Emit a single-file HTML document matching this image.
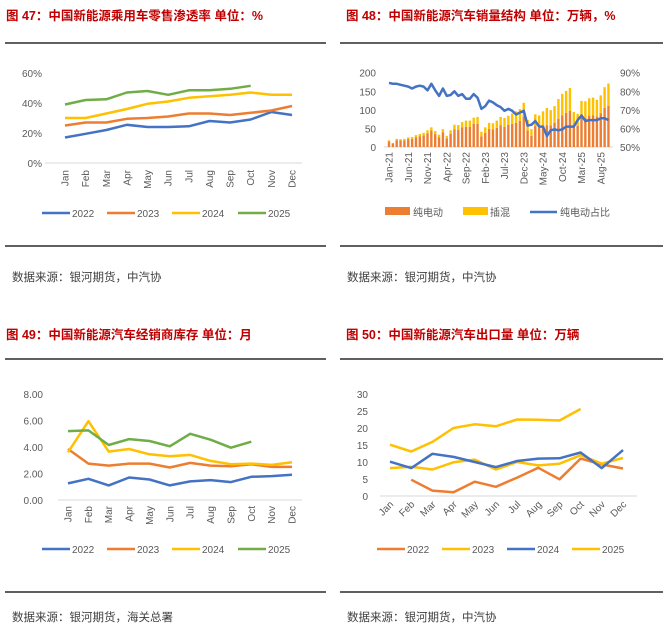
<!DOCTYPE html>
<html><head><meta charset="utf-8">
<style>
body{margin:0;background:#fff;width:668px;height:632px;overflow:hidden;font-family:"Liberation Sans","Noto Sans CJK SC",sans-serif}
svg text{font-family:"Liberation Sans","Noto Sans CJK SC",sans-serif}
.t{fill:#c00000;font-size:12.5px;font-weight:bold}
.s{fill:#404040;font-size:11.5px}
.a{fill:#595959;font-size:10px}
</style></head><body>
<svg id="svg" width="668" height="632" xmlns="http://www.w3.org/2000/svg">
<text class="t" x="6" y="20">图 47：中国新能源乘用车零售渗透率   单位：%</text>
<text class="t" x="346" y="20">图 48：中国新能源汽车销量结构   单位：万辆，%</text>
<text class="t" x="6" y="339">图 49：中国新能源汽车经销商库存   单位：月</text>
<text class="t" x="346" y="339">图 50：中国新能源汽车出口量   单位：万辆</text>
<line x1="5" y1="43" x2="326" y2="43" stroke="#000" stroke-width="1.2"/>
<line x1="340" y1="43" x2="663" y2="43" stroke="#000" stroke-width="1.2"/>
<line x1="5" y1="359" x2="326" y2="359" stroke="#000" stroke-width="1.2"/>
<line x1="340" y1="359" x2="663" y2="359" stroke="#000" stroke-width="1.2"/>
<line x1="5" y1="246" x2="326" y2="246" stroke="#000" stroke-width="1.2"/>
<line x1="340" y1="246" x2="663" y2="246" stroke="#000" stroke-width="1.2"/>
<line x1="5" y1="592" x2="326" y2="592" stroke="#000" stroke-width="1.2"/>
<line x1="340" y1="592" x2="663" y2="592" stroke="#000" stroke-width="1.2"/>
<text class="s" x="12" y="281">数据来源：银河期货，中汽协</text>
<text class="s" x="347" y="281">数据来源：银河期货，中汽协</text>
<text class="s" x="12" y="621">数据来源：银河期货，海关总署</text>
<text class="s" x="347" y="621">数据来源：银河期货，中汽协</text>
<g id="g"></g>
</svg>
<script>
const months=["Jan","Feb","Mar","Apr","May","Jun","Jul","Aug","Sep","Oct","Nov","Dec"];
const c1Years=["2022","2023","2024","2025"];
const c1_2022=[17,19.5,22,25.5,24,24,24.5,28,27,29,34,32];
const c1_2023=[25,27,27,29.5,30,31,33,33,32,33.5,35,38];
const c1_2024=[30,30,33,36,39.5,41,43.5,44.5,45.5,47,45.5,45.5];
const c1_2025=[39,42,42.5,47,48,45.5,48.5,48.5,49.5,51.5];
const c1Ticks=[0,20,40,60];
const c2Labels=["Jan-21","Jun-21","Nov-21","Apr-22","Sep-22","Feb-23","Jul-23","Dec-23","May-24","Oct-24","Mar-25","Aug-25"];
const c2Total=[18,11,22,21,22,26,27,32,35,38,45,53,
43,33,48,30,45,60,59,67,71,71,79,81,
41,53,65,64,71,81,78,84,90,96,102,119,
73,48,88,85,96,105,99,110,129,143,151,159,
94,89,124,123,131,133,127,139,161,171];
const c2Share=[84.5,84,84,83.5,83,82.5,81.5,82.5,83,82.5,80.5,84,
80.5,77.5,81.5,77.5,78,80,77.5,78.5,76,76,78.5,76.5,
70.5,72,75,74,72.5,71.5,69.5,70.5,69.5,67.5,68.5,69.5,
61.5,62,64,61,61,56,59,59.5,59,59.5,61,61,
61,64.5,67,64,64.5,64.5,64.5,65.5,65.5,64.5];
const c2LeftTicks=[0,50,100,150,200];
const c2RightTicks=[50,60,70,80,90];
const c3_2022=[1.25,1.6,1.1,1.7,1.55,1.1,1.4,1.5,1.35,1.75,1.8,1.9];
const c3_2023=[3.85,2.75,2.6,2.75,2.75,2.45,2.8,2.6,2.55,2.7,2.5,2.5];
const c3_2024=[3.6,5.95,3.65,3.85,3.45,3.3,3.4,2.95,2.7,2.75,2.65,2.85];
const c3_2025=[5.2,5.25,4.15,4.6,4.45,4.05,5.0,4.55,3.95,4.4];
const c3Ticks=[0,2,4,6,8];
const c4_2022=[null,4.8,1.6,1.1,4.2,2.7,5.4,8.3,4.9,11,9.3,8.1];
const c4_2023=[8.2,8.6,7.8,9.9,10.7,7.8,10,9,9.5,12,9.5,11.2];
const c4_2024=[10.1,8.2,12.4,11.5,10,8.5,10.3,11,11.1,12.8,8.2,13.5];
const c4_2025=[15.1,13.1,15.9,20,21.1,20.5,22.5,22.4,22.2,25.6];
const c4Ticks=[0,5,10,15,20,25,30];

const NS="http://www.w3.org/2000/svg";const G=document.getElementById('g');
function el(t,a,txt){const e=document.createElementNS(NS,t);for(const k in a)e.setAttribute(k,a[k]);if(txt!=null)e.textContent=txt;G.appendChild(e);return e;}
const BLUE="#4472c4",OR="#ed7d31",YE="#ffc000",GR="#70ad47";
function lineChart(cfg){
 const xs=i=>cfg.x0+i*(cfg.x1-cfg.x0)/11;
 const ys=v=>cfg.yb+(v-cfg.ymin)*(cfg.yt-cfg.yb)/(cfg.ymax-cfg.ymin);
 let ax=el('line',{x1:cfg.ax0,x2:cfg.ax1,y1:ys(cfg.ymin),y2:ys(cfg.ymin),stroke:'#d9d9d9','stroke-width':1});
 
 cfg.ticks.forEach(v=>{let t=el('text',{x:cfg.lx,y:ys(v)+4,'text-anchor':'end',class:'a'},cfg.fmt(v));
  });
 months.forEach((m,i)=>{let t;
  if(cfg.rot===90){t=el('text',{x:0,y:0,'text-anchor':'end',class:'a',transform:`translate(${xs(i)+3.5},${ys(cfg.ymin)+cfg.lo}) rotate(-90)`},m);}
  else{t=el('text',{x:0,y:0,'text-anchor':'end',class:'a',transform:`translate(${xs(i)+4},${ys(cfg.ymin)+9}) rotate(-45)`},m);}
  });
 cfg.series.forEach((s,k)=>{let d='',pen=false;s.data.forEach((v,i)=>{if(v==null){pen=false;return;}d+=(pen?'L':'M')+xs(i).toFixed(1)+','+ys(v).toFixed(1);pen=true;});
  let p=el('path',{d:d,fill:'none',stroke:s.c,'stroke-width':2.5,'stroke-linejoin':'round'});
  
  const lx=cfg.legX[k];
  let l=el('line',{x1:lx,x2:lx+28,y1:cfg.legY,y2:cfg.legY,stroke:s.c,'stroke-width':2.5});
  
  let t=el('text',{x:lx+30,y:cfg.legY+4,class:'a','font-size':'11'},s.n);
  });
}
lineChart({id:'fig47',x0:65,x1:292,ax0:45,ax1:302,yb:163,yt:73,ymin:0,ymax:60,ticks:c1Ticks,lx:42,fmt:v=>v+'%',rot:90,lo:7,legY:213,legX:[42,107,172,238],
 series:[{n:'2022',c:BLUE,data:c1_2022},{n:'2023',c:OR,data:c1_2023},{n:'2024',c:YE,data:c1_2024},{n:'2025',c:GR,data:c1_2025}]});
lineChart({id:'fig49',x0:68,x1:292,ax0:58,ax1:302,yb:500,yt:394,ymin:0,ymax:8,ticks:c3Ticks,lx:43,fmt:v=>v.toFixed(2),rot:90,lo:6,legY:549,legX:[42,107,172,238],
 series:[{n:'2022',c:BLUE,data:c3_2022},{n:'2023',c:OR,data:c3_2023},{n:'2024',c:YE,data:c3_2024},{n:'2025',c:GR,data:c3_2025}]});
lineChart({id:'fig50',x0:390,x1:623,ax0:380,ax1:637,yb:496,yt:394,ymin:0,ymax:30,ticks:c4Ticks,lx:368,fmt:v=>String(v),rot:45,lo:0,legY:549,legX:[377,442,507,572],
 series:[{n:'2022',c:OR,data:c4_2022},{n:'2023',c:YE,data:c4_2023},{n:'2024',c:BLUE,data:c4_2024},{n:'2025',c:YE,data:c4_2025}]});

// Chart 48
(function(){
 const x0=389,step=3.85,yb=147,yt=72.7;
 const xs=i=>x0+i*step;
 const yl=v=>yb+v*(yt-yb)/200;
 const yr=v=>yb+(v-50)*(yt-yb)/40;
 let ax=el('line',{x1:384,x2:613,y1:yb,y2:yb,stroke:'#d9d9d9','stroke-width':1});
 
 c2LeftTicks.forEach(v=>{let t=el('text',{x:376,y:yl(v)+4,'text-anchor':'end',class:'a'},String(v));
  });
 c2RightTicks.forEach(v=>{let t=el('text',{x:620,y:yr(v)+4,class:'a'},v+'%');
  });
 c2Labels.forEach((m,k)=>{const i=k*5;let t=el('text',{x:0,y:0,'text-anchor':'end',class:'a',transform:`translate(${xs(i)+3.5},${yb+5}) rotate(-90)`},m);
  });
 c2Total.forEach((tot,i)=>{const bev=tot*c2Share[i]/100;
  let r1=el('rect',{x:xs(i)-1.2,y:yl(bev),width:2.4,height:yb-yl(bev),fill:OR});
  
  let r2=el('rect',{x:xs(i)-1.2,y:yl(tot),width:2.4,height:yl(bev)-yl(tot),fill:YE});
  });
 let d='';c2Share.forEach((v,i)=>{d+=(i?'L':'M')+xs(i).toFixed(1)+','+yr(v).toFixed(1);});
 let p=el('path',{d:d,fill:'none',stroke:BLUE,'stroke-width':2.5,'stroke-linejoin':'round'});
 
 let b1=el('rect',{x:385,y:207,width:25,height:8,fill:OR});
 let t1=el('text',{x:413,y:216,class:'a','font-size':'11'},'纯电动');
 let b2=el('rect',{x:463,y:207,width:25,height:8,fill:YE});
 let t2=el('text',{x:490,y:216,class:'a','font-size':'11'},'插混');
 let l3=el('line',{x1:530,x2:557,y1:212,y2:212,stroke:BLUE,'stroke-width':2.5});
 let t3=el('text',{x:560,y:216,class:'a','font-size':'11'},'纯电动占比');
})();
</script>
</body></html>
